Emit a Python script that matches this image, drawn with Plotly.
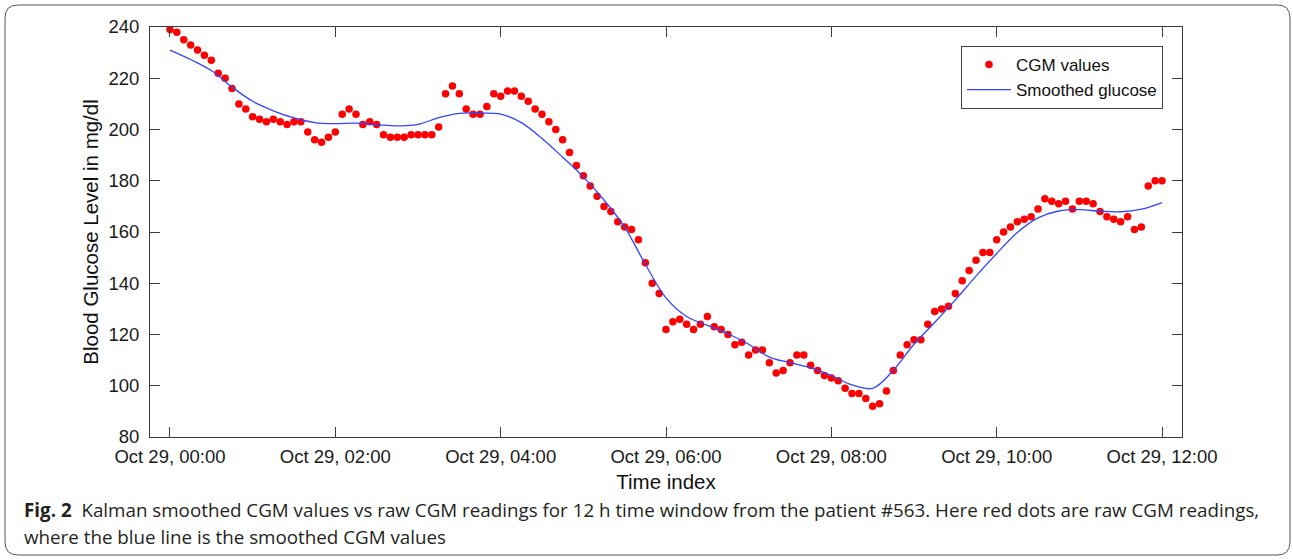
import pandas as pd
import plotly.graph_objects as go

# ---------------- data ----------------
start = pd.Timestamp("2019-10-29 00:00")
cgm_values = [
    239, 238, 235, 233, 231, 229, 227, 222, 220, 216,
    210, 208, 205, 204, 203, 204, 203, 202, 203, 203,
    199, 196, 195, 197, 199, 206, 208, 206, 202, 203,
    202, 198, 197, 197, 197, 198, 198, 198, 198, 201,
    214, 217, 214, 208, 206, 206, 209, 214, 213, 215,
    215, 213, 211, 208, 206, 203, 200, 196, 191, 186,
    182, 178, 174, 170, 168, 164, 162, 161, 157, 148,
    140, 136, 122, 125, 126, 124, 122, 124, 127, 123,
    122, 120, 116, 117, 112, 114, 114, 109, 105, 106,
    109, 112, 112, 108, 106, 104, 103, 102, 99, 97,
    97, 95, 92, 93, 98, 106, 112, 116, 118, 118,
    124, 129, 130, 131, 136, 141, 145, 149, 152, 152,
    157, 160, 162, 164, 165, 166, 169, 173, 172, 171,
    172, 169, 172, 172, 171, 168, 166, 165, 164, 166,
    161, 162, 178, 180, 180,
]
cgm_times = pd.date_range(start, periods=len(cgm_values), freq="5min")

smoothed_values = [
    231, 227.3, 223, 216.6, 211, 207.3, 204.5, 202.7, 202.3, 202.5,
    201.9, 201.4, 202, 204.6, 206.3, 206.4, 206, 202.7, 196.5, 189.2,
    181.5, 172.5, 161.9, 147.4, 134.3, 127, 123.6, 120.3, 116.2, 111.2,
    109, 107, 104, 100.3, 99.0, 106, 116.2, 124.7, 133.5, 142.8,
    151.6, 159.8, 165.5, 168.2, 168.7, 168.1, 167.9, 168.9, 171.5,
]
smoothed_times = pd.date_range(start, periods=len(smoothed_values), freq="15min")

x_ticks = pd.date_range(start, periods=7, freq="2h")
y_ticks = [80, 100, 120, 140, 160, 180, 200, 220, 240]

# ---------------- layout geometry (pixels) ----------------
W, H = 1293, 560
L, R, T, B = 150, 1182, 27, 437


def px(x, y):
    return (x - L) / (R - L), (B - y) / (B - T)


def rounded_rect(x0, y0, x1, y1, r):
    def P(x, y):
        a, b = px(x, y)
        return f"{a:.5f},{b:.5f}"
    d = f"M {P(x0 + r, y0)} L {P(x1 - r, y0)} Q {P(x1, y0)} {P(x1, y0 + r)} "
    d += f"L {P(x1, y1 - r)} Q {P(x1, y1)} {P(x1 - r, y1)} "
    d += f"L {P(x0 + r, y1)} Q {P(x0, y1)} {P(x0, y1 - r)} "
    d += f"L {P(x0, y0 + r)} Q {P(x0, y0)} {P(x0 + r, y0)} Z"
    return d


axis_font = dict(family="Liberation Sans, Arial, sans-serif", size=18.5, color="#1a1a1a")
axis_color = "#3a3a3a"

fig = go.Figure()
fig.add_trace(go.Scatter(
    x=cgm_times, y=cgm_values, mode="markers", name="CGM values",
    marker=dict(color="#ff0000", size=7.5, line=dict(width=0)),
))
fig.add_trace(go.Scatter(
    x=smoothed_times, y=smoothed_values, mode="lines", name="Smoothed glucose",
    line=dict(color="#3344ff", width=1.3, shape="spline", smoothing=1.0),
))

fig.update_layout(
    width=W, height=H,
    margin=dict(l=L, r=W - R, t=T, b=H - B),
    paper_bgcolor="white", plot_bgcolor="white",
    font=axis_font,
    showlegend=True,
    legend=dict(
        x=px(1163, 0)[0], y=px(0, 46)[1], xanchor="right", yanchor="top",
        bgcolor="white", bordercolor="#444", borderwidth=1,
        font=dict(family="Liberation Sans, Arial, sans-serif", size=17, color="#111"),
        tracegroupgap=0, itemwidth=44,
    ),
    xaxis=dict(
        range=[start - pd.Timedelta(minutes=14.5), start + pd.Timedelta(hours=12, minutes=14.5)],
        tickvals=x_ticks, tickformat="%b %d, %H:%M",
        ticks="inside", ticklen=10, tickcolor=axis_color, tickwidth=1,
        showline=True, linecolor=axis_color, linewidth=1, mirror="ticks",
        showgrid=False, zeroline=False, automargin=False,
        ticklabelstandoff=3,
        title=dict(text="Time index", font=dict(size=20.5, color="#111"), standoff=8),
    ),
    yaxis=dict(
        range=[80, 240], tickvals=y_ticks,
        ticks="inside", ticklen=10, tickcolor=axis_color, tickwidth=1,
        showline=True, linecolor=axis_color, linewidth=1, mirror="ticks",
        showgrid=False, zeroline=False, automargin=False,
        ticklabelstandoff=6,
        title=dict(text="Blood Glucose Level in mg/dl", font=dict(size=20.5, color="#111"), standoff=4),
    ),
    shapes=[dict(
        type="path", xref="paper", yref="paper",
        path=rounded_rect(5, 5, 1290, 555, 13),
        line=dict(color="#555", width=1), fillcolor="rgba(0,0,0,0)", layer="below",
    )],
)

cap_font = dict(family="Open Sans, Noto Sans, sans-serif", size=18.8, color="#231f20")
x_cap, y1 = px(22, 510)
_, y2 = px(22, 537)
fig.add_annotation(
    xref="paper", yref="paper", x=x_cap, y=y1, xanchor="left", yanchor="middle",
    showarrow=False, font=cap_font, align="left",
    text="<b>Fig. 2</b>  Kalman smoothed CGM values vs raw CGM readings for 12 h time window from the patient #563. Here red dots are raw CGM readings,",
)
fig.add_annotation(
    xref="paper", yref="paper", x=x_cap, y=y2, xanchor="left", yanchor="middle",
    showarrow=False, font=cap_font, align="left",
    text="where the blue line is the smoothed CGM values",
)

fig.write_html("out.html", post_script="document.body.style.margin='0';",
               config={"displayModeBar": False})
